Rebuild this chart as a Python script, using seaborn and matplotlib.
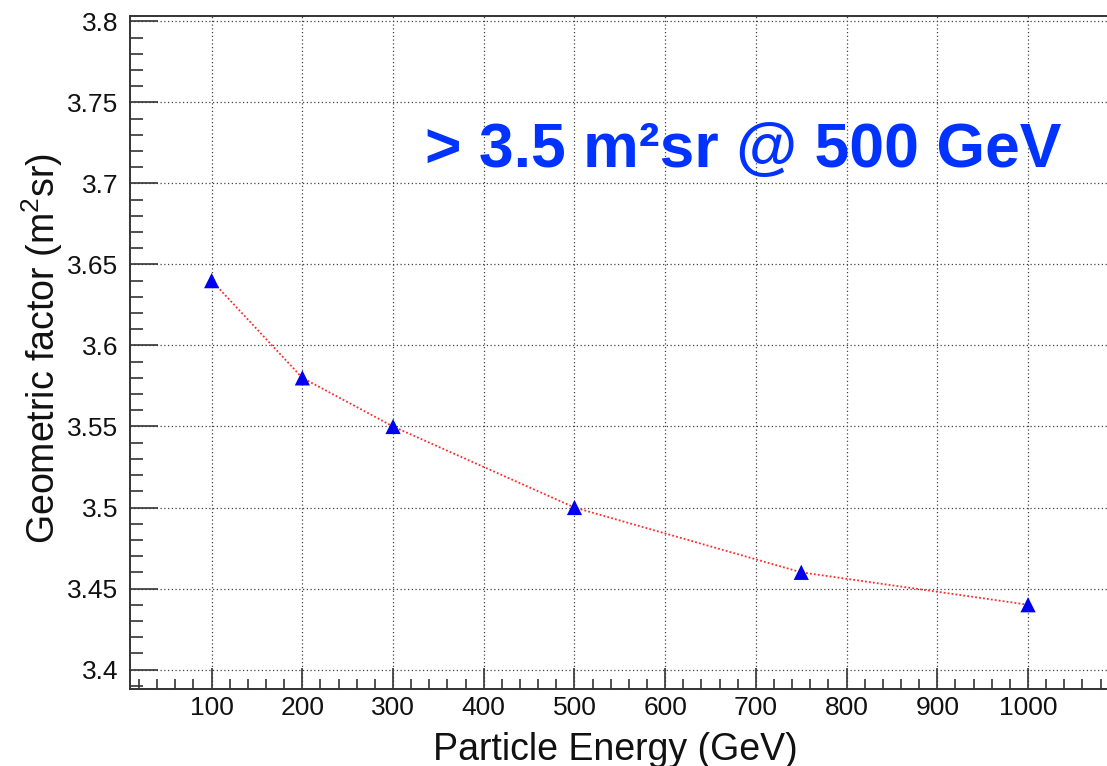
import matplotlib
matplotlib.use("Agg")
import matplotlib.pyplot as plt
from matplotlib.ticker import MultipleLocator, FuncFormatter
import seaborn as sns
import pandas as pd

# Geometric factor versus particle energy
energy_gev = [100, 200, 300, 500, 750, 1000]
geometric_factor = [3.64, 3.58, 3.55, 3.50, 3.46, 3.44]

x_label = "Particle Energy (GeV)"
y_label = r"Geometric factor (m$^{2}$sr)"
headline = "> 3.5 m\u00b2sr @ 500 GeV"

df = pd.DataFrame({"energy": energy_gev, "gf": geometric_factor})

sns.set_theme(style="white")
plt.rcParams["font.family"] = ["Liberation Sans", "DejaVu Sans"]
plt.rcParams["mathtext.fontset"] = "custom"
plt.rcParams["mathtext.rm"] = "Liberation Sans"
plt.rcParams["mathtext.bf"] = "Liberation Sans:bold"
plt.rcParams["mathtext.default"] = "rm"

W, H = 1107, 766
fig = plt.figure(figsize=(W / 100, H / 100), dpi=100)
fig.patch.set_facecolor("white")

# axes frame in pixel terms: left 130, right ~1110 (past the edge), top 15.7, bottom 689
left, right, top, bottom = 130, 1109.7, 15.7, 689
ax = fig.add_axes([left / W, 1 - bottom / H, (right - left) / W, (bottom - top) / H])
ax.set_facecolor("white")

sns.lineplot(data=df, x="energy", y="gf", ax=ax, color="#ff2a2a",
             linestyle=(0, (1, 1.2)), linewidth=1.3, zorder=3)
sns.scatterplot(data=df, x="energy", y="gf", ax=ax, marker="^", s=120,
                color="#0000ee", edgecolor="none", linewidth=0, zorder=4)

ax.set_xlim(10, 1090)
ax.set_ylim(3.388, 3.8035)

ax.xaxis.set_major_locator(MultipleLocator(100))
ax.xaxis.set_minor_locator(MultipleLocator(20))
ax.yaxis.set_major_locator(MultipleLocator(0.05))
ax.yaxis.set_minor_locator(MultipleLocator(0.01))


def ylab(v, pos):
    return f"{v:.2f}".rstrip("0").rstrip(".")


def xlab(v, pos):
    return f"{v:.0f}" if 100 <= v <= 1000 else ""


ax.yaxis.set_major_formatter(FuncFormatter(ylab))
ax.xaxis.set_major_formatter(FuncFormatter(xlab))

spine_color = "#333333"
for side in ["left", "bottom", "top", "right"]:
    ax.spines[side].set_visible(True)
    ax.spines[side].set_color(spine_color)
    ax.spines[side].set_linewidth(1.4)

ax.tick_params(axis="both", which="both", direction="in", color=spine_color,
               width=1.2, bottom=True, left=True, top=False, right=False,
               labelsize=19, labelcolor="#111111")
ax.tick_params(axis="y", which="major", length=20, pad=8.5)
ax.tick_params(axis="y", which="minor", length=9.5)
ax.tick_params(axis="x", which="major", length=15, pad=5)
ax.tick_params(axis="x", which="minor", length=7.2)

ax.grid(True, which="major", color="#444444", linestyle=(0, (1, 2)), linewidth=0.9)
ax.set_axisbelow(True)

ax.set_xlabel(x_label, fontsize=27, color="#111111", va="baseline")
ax.xaxis.set_label_coords((615 - left) / (right - left), (bottom - 760) / (bottom - top))
ax.set_ylabel(y_label, fontsize=27, color="#111111", rotation=90,
              rotation_mode="anchor", ha="center", va="baseline")
ax.yaxis.set_label_coords((55 - left) / (right - left), (bottom - 349) / (bottom - top))

ax.text((425 - left) / (right - left), (bottom - 167) / (bottom - top), headline,
        transform=ax.transAxes, fontsize=45, fontweight="bold", color="#0033ff",
        ha="left", va="baseline", zorder=5)

fig.savefig("out.png", dpi=100, facecolor="white")
